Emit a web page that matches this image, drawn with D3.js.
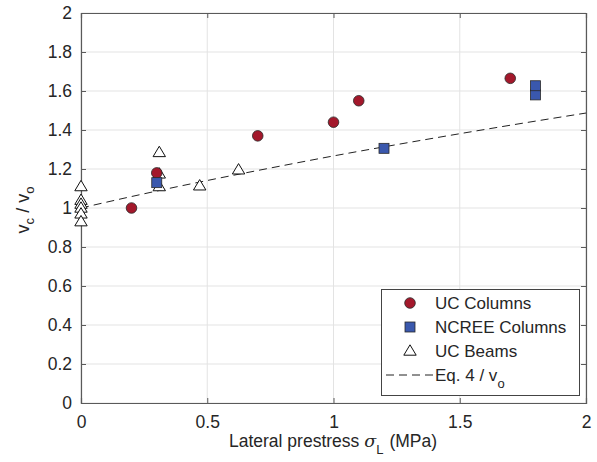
<!DOCTYPE html>
<html><head><meta charset="utf-8">
<script src="https://cdn.jsdelivr.net/npm/d3@7"></script>
<style>
body{margin:0;background:#fff;}
svg{display:block;font-family:"Liberation Sans",Arial,Helvetica,sans-serif;}
</style></head>
<body><svg id="c" width="597" height="462"></svg>
<script>
// Data
const ucColumnsX = [0.2, 0.3, 0.7, 1.0, 1.1, 1.7];
const ucColumnsY = [1.0, 1.18, 1.37, 1.44, 1.55, 1.665];
const ncreeX = [0.3, 1.2, 1.8, 1.8];
const ncreeY = [1.13, 1.306, 1.58, 1.627];
const ucBeamsX = [0, 0, 0, 0, 0, 0, 0.31, 0.31, 0.31, 0.47, 0.624];
const ucBeamsY = [1.11, 1.04, 1.02, 1.0, 0.97, 0.93, 1.285, 1.175, 1.11, 1.114, 1.196];
const eqX = [0, 0.25, 0.5, 0.75, 1.0, 1.25, 1.5, 1.75, 2.0];
const eqY = [1.0, 1.073, 1.141, 1.205, 1.267, 1.325, 1.381, 1.435, 1.487];
const xTicks = [0, 0.5, 1, 1.5, 2];
const yTicks = [0, 0.2, 0.4, 0.6, 0.8, 1, 1.2, 1.4, 1.6, 1.8, 2];
const legendLabels = ["UC Columns", "NCREE Columns", "UC Beams", "Eq. 4 / v"];

const L = 81, R = 586, T = 13, B = 403;
const svg = d3.select("#c");
const x = d3.scaleLinear().domain([0, 2]).range([L, R]);
const y = d3.scaleLinear().domain([0, 2]).range([B, T]);
const axisCol = "#5a5a5a", textCol = "#262626", gridCol = "#e3e3e3";

// grid
svg.append("g").selectAll("line.gx").data(xTicks).join("line")
  .attr("x1", d => x(d)).attr("x2", d => x(d)).attr("y1", T).attr("y2", B)
  .attr("stroke", gridCol).attr("stroke-width", 1);
svg.append("g").selectAll("line.gy").data(yTicks).join("line")
  .attr("y1", d => y(d)).attr("y2", d => y(d)).attr("x1", L).attr("x2", R)
  .attr("stroke", gridCol).attr("stroke-width", 1);

// axes
const fmt = d => d3.format("")(+d.toFixed(1));
const gx = svg.append("g").attr("transform", `translate(0,${B})`)
  .call(d3.axisBottom(x).tickValues(xTicks).tickSize(-5).tickPadding(13).tickFormat(fmt));
const gy = svg.append("g").attr("transform", `translate(${L},0)`)
  .call(d3.axisLeft(y).tickValues(yTicks).tickSize(-5).tickPadding(9).tickFormat(fmt));
const gx2 = svg.append("g").attr("transform", `translate(0,${T})`)
  .call(d3.axisTop(x).tickValues(xTicks).tickSize(-5).tickFormat(""));
const gy2 = svg.append("g").attr("transform", `translate(${R},0)`)
  .call(d3.axisRight(y).tickValues(yTicks).tickSize(-5).tickFormat(""));
[gx, gy, gx2, gy2].forEach(g => {
  g.select(".domain").attr("stroke", axisCol).attr("stroke-width", 1.2);
  g.selectAll(".tick line").attr("stroke", axisCol);
  g.selectAll(".tick text").attr("fill", textCol).attr("font-size", 17.5)
    .attr("font-family", "Liberation Sans, Arial, sans-serif");
});

// dashed equation line
const line = d3.line().x((d, i) => x(eqX[i])).y(d => y(d)).curve(d3.curveMonotoneX);
svg.append("path").attr("d", line(eqY)).attr("fill", "none")
  .attr("stroke", "#222").attr("stroke-width", 1).attr("stroke-dasharray", "8,5");

const triPath = "M0,-6.2L6.2,4.2L-6.2,4.2Z";
// beams (triangles)
svg.append("g").selectAll("path").data(ucBeamsX).join("path")
  .attr("d", triPath)
  .attr("transform", (d, i) => `translate(${x(d)},${y(ucBeamsY[i])})`)
  .attr("fill", "#fff").attr("stroke", "#111").attr("stroke-width", 1);
// columns (circles)
svg.append("g").selectAll("circle").data(ucColumnsX).join("circle")
  .attr("cx", d => x(d)).attr("cy", (d, i) => y(ucColumnsY[i])).attr("r", 5.3)
  .attr("fill", "#a3182b").attr("stroke", "#2a2a2a").attr("stroke-width", 0.8);
// ncree (squares)
svg.append("g").selectAll("rect").data(ncreeX).join("rect")
  .attr("x", d => x(d) - 5).attr("y", (d, i) => y(ncreeY[i]) - 5)
  .attr("width", 10).attr("height", 10)
  .attr("fill", "#3a58ad").attr("stroke", "#2a2a2a").attr("stroke-width", 0.8);

// legend
const lg = svg.append("g");
lg.append("rect").attr("x", 381.5).attr("y", 289.5).attr("width", 198).attr("height", 106)
  .attr("fill", "#fff").attr("stroke", "#444").attr("stroke-width", 1);
const ly = [303, 327, 351, 375];
const mx = 410, tx = 435;
lg.append("circle").attr("cx", mx).attr("cy", ly[0]).attr("r", 5.3)
  .attr("fill", "#a3182b").attr("stroke", "#2a2a2a").attr("stroke-width", 0.8);
lg.append("rect").attr("x", mx - 5).attr("y", ly[1] - 5).attr("width", 10).attr("height", 10)
  .attr("fill", "#3a58ad").attr("stroke", "#2a2a2a").attr("stroke-width", 0.8);
lg.append("path").attr("d", triPath).attr("transform", `translate(${mx},${ly[2]})`)
  .attr("fill", "#fff").attr("stroke", "#111").attr("stroke-width", 1);
lg.append("line").attr("x1", 386).attr("x2", 433).attr("y1", ly[3]).attr("y2", ly[3])
  .attr("stroke", "#222").attr("stroke-width", 1).attr("stroke-dasharray", "8,5");
legendLabels.forEach((t, i) => {
  const te = lg.append("text").attr("x", tx).attr("y", ly[i] + 6)
    .attr("font-size", 17).attr("fill", textCol).text(t);
  if (i === 3) te.append("tspan").attr("dy", 7).attr("font-size", 13).text("o");
});

// axis labels
const xl = svg.append("text").attr("x", 333).attr("y", 447).attr("text-anchor", "middle")
  .attr("font-size", 17.5).attr("fill", textCol);
xl.append("tspan").text("Lateral prestress ");
xl.append("tspan").attr("font-style", "italic").attr("font-family", "DejaVu Serif, serif").text("σ");
xl.append("tspan").attr("dy", 7).attr("font-size", 13).text("L");
xl.append("tspan").attr("dy", -7).attr("dx", 6).text("(MPa)");

const yl = svg.append("text").attr("transform", "translate(29,210) rotate(-90)")
  .attr("text-anchor", "middle").attr("font-size", 18).attr("fill", textCol);
yl.append("tspan").text("v");
yl.append("tspan").attr("dy", 5).attr("font-size", 13).text("c");
yl.append("tspan").attr("dy", -5).text(" / v");
yl.append("tspan").attr("dy", 5).attr("font-size", 13).text("o");
</script></body></html>
